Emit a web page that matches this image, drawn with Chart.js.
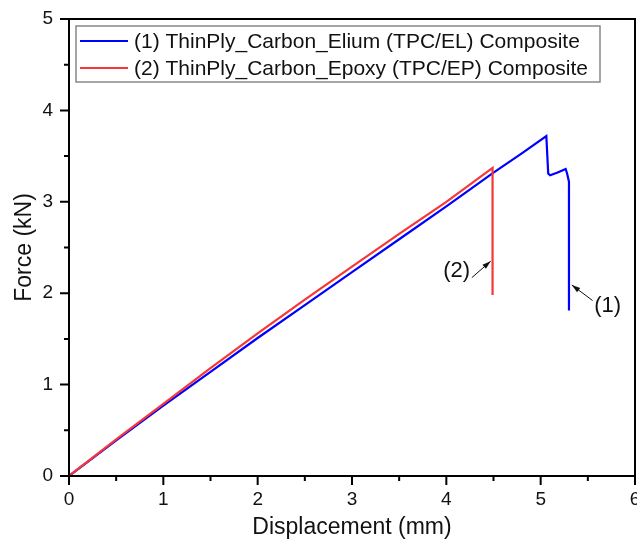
<!DOCTYPE html>
<html>
<head>
<meta charset="utf-8">
<script src="https://cdn.jsdelivr.net/npm/chart.js@4"></script>
<style>
    html, body { margin: 0; padding: 0; background: #fff; }
    #wrap { width: 637px; height: 548px; }
</style>
</head>
<body>
<div id="wrap"><canvas id="chart1" width="637" height="548"></canvas></div>
<script>
// (1) ThinPly_Carbon_Elium, displacement (mm) / force (kN)
const elX = [0, 0.5, 1, 1.5, 2, 2.5, 3, 3.5, 4, 4.5, 4.8, 5.06, 5.08, 5.10, 5.18, 5.265, 5.28, 5.30, 5.30];
const elY = [0, 0.39, 0.77, 1.14, 1.51, 1.87, 2.23, 2.59, 2.95, 3.32, 3.53, 3.72, 3.31, 3.29, 3.32, 3.36, 3.31, 3.22, 1.81];

// (2) ThinPly_Carbon_Epoxy
const epX = [0, 0.5, 1, 1.5, 2, 2.5, 3, 3.5, 4, 4.49, 4.49];
const epY = [0, 0.40, 0.79, 1.18, 1.56, 1.93, 2.29, 2.65, 3.00, 3.37, 1.98];

const seriesNames = [
    '(1) ThinPly_Carbon_Elium (TPC/EL) Composite',
    '(2) ThinPly_Carbon_Epoxy (TPC/EP) Composite'
];
const xTicks = [0, 1, 2, 3, 4, 5, 6];
const yTicks = [0, 1, 2, 3, 4, 5];

// callouts: label position, arrow tail, arrow head (data units)
const callouts = [
    { text: '(1)', at: [5.71, 1.86], from: [5.55, 1.92], to: [5.33, 2.09] },
    { text: '(2)', at: [4.11, 2.24], from: [4.27, 2.17], to: [4.47, 2.35] }
];

const blue = 'rgb(0, 0, 255)';
const red = 'rgb(245, 55, 55)';
const FONT = '"Liberation Sans", Arial, sans-serif';

function toPoints(xs, ys) {
    return xs.map((x, i) => ({ x: x, y: ys[i] }));
}

const framePlugin = {
    id: 'frame',
    afterDatasetsDraw(chart) {
        const ctx = chart.ctx;
        const area = chart.chartArea;
        const xs = chart.scales.x;
        const ys = chart.scales.y;
        ctx.save();

        // callouts
        ctx.fillStyle = '#111';
        ctx.strokeStyle = '#111';
        ctx.font = '22px ' + FONT;
        ctx.textAlign = 'center';
        ctx.textBaseline = 'middle';
        callouts.forEach(c => {
            ctx.fillText(c.text, xs.getPixelForValue(c.at[0]), ys.getPixelForValue(c.at[1]));
            const x1 = xs.getPixelForValue(c.from[0]), y1 = ys.getPixelForValue(c.from[1]);
            const x2 = xs.getPixelForValue(c.to[0]), y2 = ys.getPixelForValue(c.to[1]);
            ctx.lineWidth = 1;
            ctx.beginPath();
            ctx.moveTo(x1, y1);
            ctx.lineTo(x2, y2);
            ctx.stroke();
            const a = Math.atan2(y2 - y1, x2 - x1);
            ctx.beginPath();
            ctx.moveTo(x2, y2);
            ctx.lineTo(x2 - 9 * Math.cos(a - 0.3), y2 - 9 * Math.sin(a - 0.3));
            ctx.lineTo(x2 - 9 * Math.cos(a + 0.3), y2 - 9 * Math.sin(a + 0.3));
            ctx.closePath();
            ctx.fill();
        });

        // legend box
        const lx = area.left + 7, ly = area.top + 7;
        ctx.font = '21px ' + FONT;
        ctx.textAlign = 'left';
        const w = Math.max(...seriesNames.map(s => ctx.measureText(s).width));
        ctx.fillStyle = '#fff';
        ctx.fillRect(lx, ly, w + 70, 56);
        ctx.strokeStyle = '#888';
        ctx.lineWidth = 1.5;
        ctx.strokeRect(lx, ly, w + 70, 56);
        [blue, red].forEach((col, i) => {
            const ty = ly + 15 + i * 27;
            ctx.strokeStyle = col;
            ctx.lineWidth = 2;
            ctx.beginPath();
            ctx.moveTo(lx + 4, ty);
            ctx.lineTo(lx + 52, ty);
            ctx.stroke();
            ctx.fillStyle = '#111';
            ctx.fillText(seriesNames[i], lx + 58, ty + 1);
        });

        // frame and ticks
        ctx.strokeStyle = '#000';
        ctx.lineWidth = 2;
        ctx.strokeRect(area.left, area.top, area.right - area.left, area.bottom - area.top);
        ctx.beginPath();
        for (let v = 0; v <= 6.001; v += 0.5) {
            const px = xs.getPixelForValue(v);
            const len = Number.isInteger(v) ? 9 : 5;
            ctx.moveTo(px, area.bottom);
            ctx.lineTo(px, area.bottom + len);
        }
        for (let v = 0; v <= 5.001; v += 0.5) {
            const py = ys.getPixelForValue(v);
            const len = Number.isInteger(v) ? 9 : 5;
            ctx.moveTo(area.left, py);
            ctx.lineTo(area.left - len, py);
        }
        ctx.stroke();
        ctx.restore();
    }
};

const ctx = document.getElementById('chart1').getContext('2d');
new Chart(ctx, {
    type: 'scatter',
    data: {
        datasets: [
            {
                label: seriesNames[0],
                data: toPoints(elX, elY),
                showLine: true,
                borderColor: blue,
                backgroundColor: blue,
                borderWidth: 2.2,
                pointRadius: 0,
                order: 1
            },
            {
                label: seriesNames[1],
                data: toPoints(epX, epY),
                showLine: true,
                borderColor: red,
                backgroundColor: red,
                borderWidth: 2.2,
                pointRadius: 0,
                order: 0
            }
        ]
    },
    options: {
        responsive: false,
        animation: false,
        layout: { padding: { top: 19, right: 2, left: 0, bottom: 0 } },
        plugins: {
            legend: { display: false },
            tooltip: { enabled: false }
        },
        scales: {
            x: {
                type: 'linear',
                min: 0,
                max: 6,
                afterBuildTicks: s => { s.ticks = xTicks.map(v => ({ value: v })); },
                afterFit: s => { s.height = 72; s.paddingLeft = 0; s.paddingRight = 0; },
                grid: { display: false, drawTicks: false },
                border: { display: false },
                ticks: {
                    autoSkip: false,
                    maxRotation: 0,
                    padding: 12,
                    color: '#111',
                    font: { family: FONT, size: 19 }
                },
                title: {
                    display: true,
                    text: 'Displacement (mm)',
                    color: '#111',
                    font: { family: FONT, size: 23 },
                    padding: { top: 0, bottom: 7 }
                }
            },
            y: {
                type: 'linear',
                min: 0,
                max: 5,
                afterBuildTicks: s => { s.ticks = yTicks.map(v => ({ value: v })); },
                afterFit: s => { s.width = 69; s.paddingTop = 0; s.paddingBottom = 0; },
                grid: { display: false, drawTicks: false },
                border: { display: false },
                ticks: {
                    padding: 16,
                    color: '#111',
                    font: { family: FONT, size: 19 }
                },
                title: {
                    display: true,
                    text: 'Force (kN)',
                    color: '#111',
                    font: { family: FONT, size: 23 },
                    padding: { top: 11, bottom: 0 }
                }
            }
        }
    },
    plugins: [framePlugin]
});
</script>
</body>
</html>
